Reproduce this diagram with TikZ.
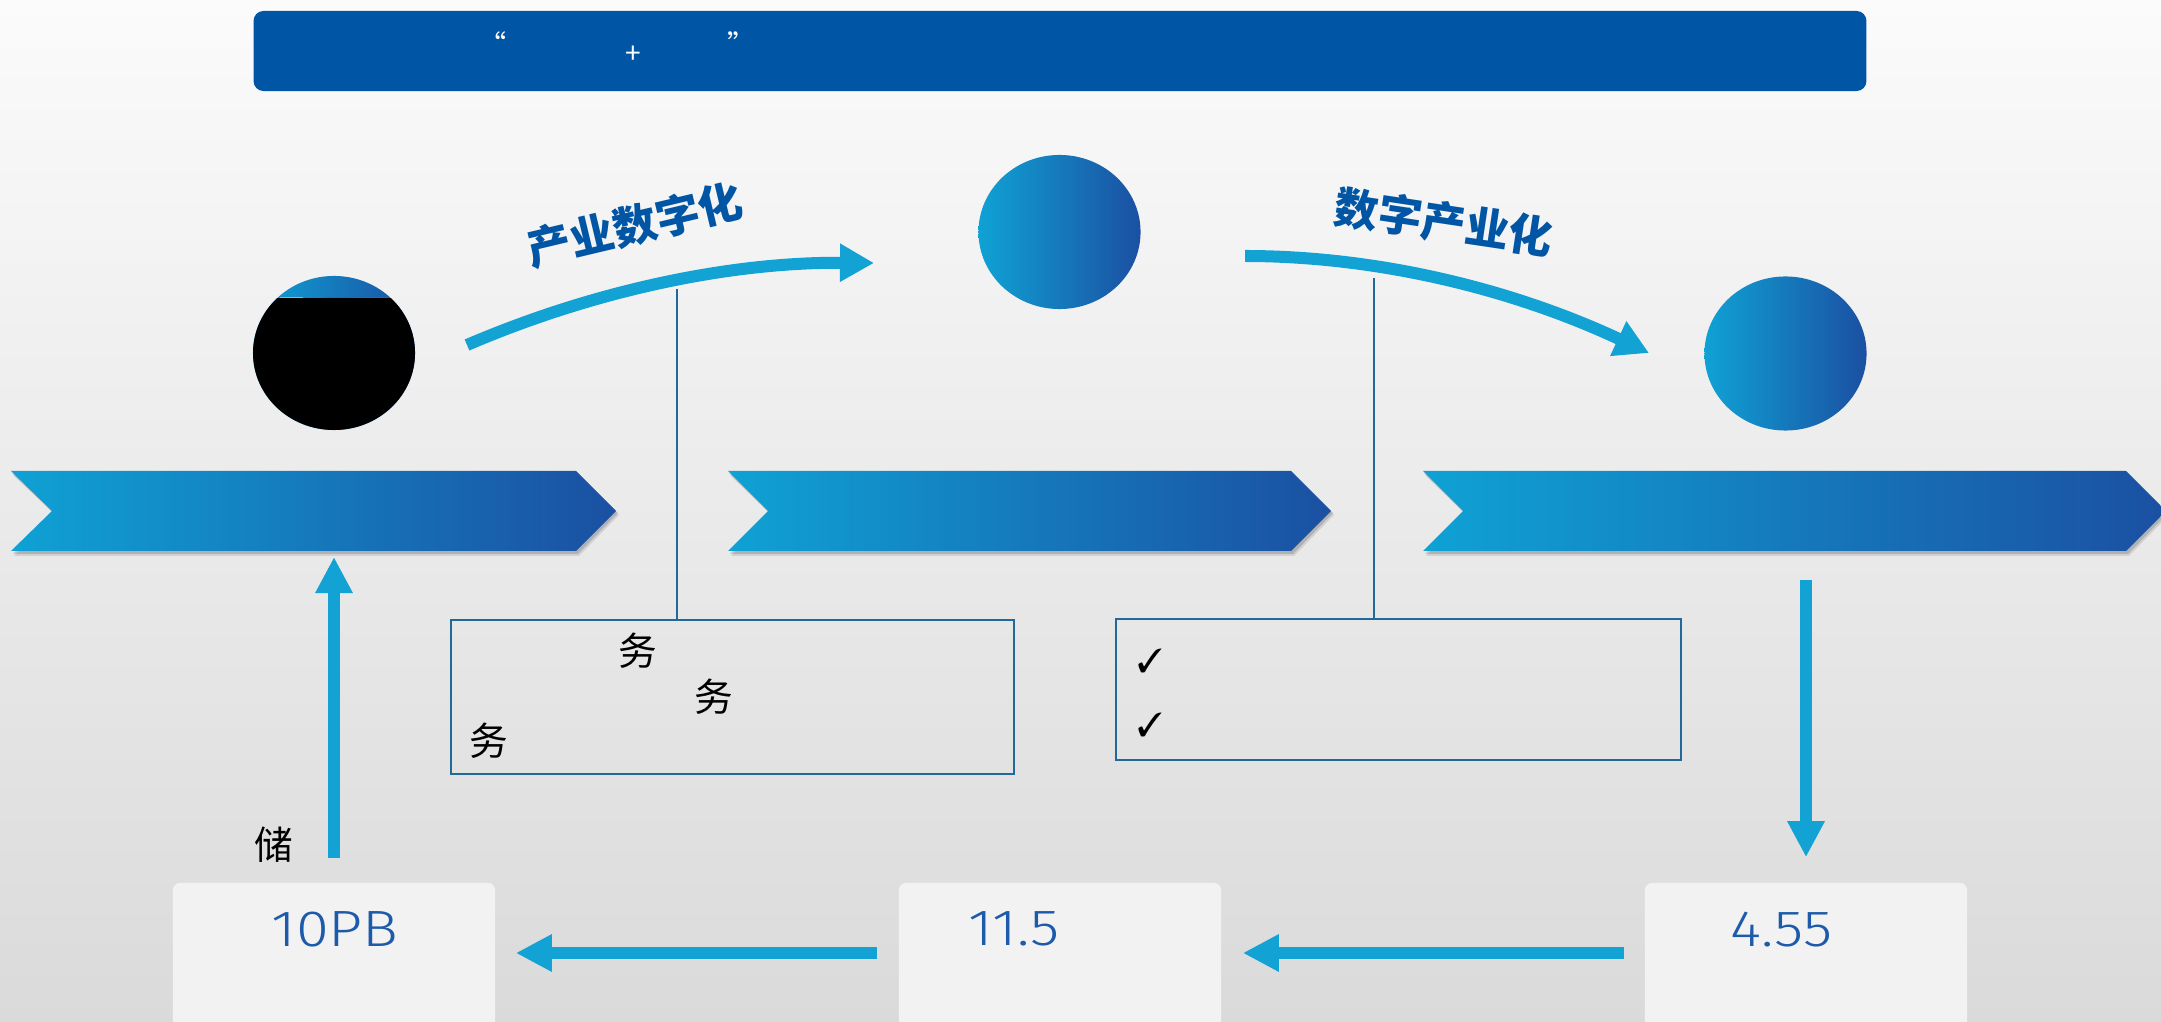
\documentclass[tikz,border=0pt]{standalone}
\usepackage{fontspec}
\usepackage{pifont}
\newfontfamily\cjk{Noto Sans CJK SC}
\newfontfamily\numfont{Fira Sans}[UprightFont={* Light},FakeStretch=1.17]
\usetikzlibrary{arrows.meta,shapes.geometric}
\definecolor{bgTop}{HTML}{FBFBFB}
\definecolor{bgBot}{HTML}{DADADA}
\definecolor{gA}{HTML}{0FA2D4}
\definecolor{gB}{HTML}{1B50A2}
\definecolor{arrowBlue}{HTML}{12A3D4}
\definecolor{titleBlue}{HTML}{0055A5}
\definecolor{lineBlue}{HTML}{22699A}
\definecolor{numBlue}{HTML}{1D5BAA}
\definecolor{boxFill}{HTML}{F2F2F2}
\begin{document}
\begin{tikzpicture}[x=0.01cm,y=-0.01cm,
  circ/.style={ellipse,minimum width=1.62cm,minimum height=1.54cm,inner sep=0pt,left color=gA,right color=gB},
  bigarrow/.style={line width=0.12cm,draw=arrowBlue,-{Triangle[length=0.34cm,width=0.36cm]}},
  strarrow/.style={line width=0.115cm,draw=arrowBlue,-{Triangle[length=0.36cm,width=0.35cm]}},
  connector/.style={draw=lineBlue,line width=0.02cm},
  infobox/.style={draw=lineBlue,line width=0.02cm,inner sep=0pt},
  valbox/.style={fill=boxFill,rounded corners=0.07cm,minimum width=3.22cm,minimum height=1.57cm,inner sep=0pt},
  cjktitle/.style={font=\cjk\bfseries\fontsize{12.5}{14}\selectfont,text=titleBlue,inner sep=0pt},
  bodytext/.style={font=\cjk\fontsize{11}{13}\selectfont,text=black,inner sep=0pt},
  numtext/.style={font=\numfont\fontsize{14.5}{16}\selectfont,text=numBlue,inner sep=0pt},
  checktext/.style={font=\fontsize{9.5}{11}\selectfont,text=black,inner sep=0pt},
  bartext/.style={font=\cjk\fontsize{8}{9}\selectfont,text=white,inner sep=0pt}]
\useasboundingbox (0,0) rectangle (2161,1022);
\clip (0,0) rectangle (2161,1022);
\shade[top color=bgTop,bottom color=bgBot] (0,0) rectangle (2161,1022);

% title bar
\node[fill=titleBlue,rounded corners=0.1cm,minimum width=16.12cm,minimum height=0.8cm,inner sep=0pt] (title) at (1060,51) {};
\node[bartext] (q1) at (493,44) {“};
\node[bartext] (plus) at (633,55) {+};
\node[bartext] (q2) at (742,44) {”};

% chevrons with shadows
\foreach \a/\b/\c/\d in {11/52/576/616, 728/768/1291/1331, 1423/1463/2126/2166}{
  \fill[black,opacity=0.10] (\a+2,475) -- (\c+2,475) -- (\d+3,515) -- (\c+3,556) -- (\a+3,556) -- (\b+3,515) -- cycle;
  \fill[black,opacity=0.15] (\a+1,473) -- (\c+1,473) -- (\d+2,513) -- (\c+2,554) -- (\a+2,554) -- (\b+2,513) -- cycle;
  \shade[left color=gA,right color=gB] (\a,471) -- (\c,471) -- (\d,511) -- (\c,551) -- (\a,551) -- (\b,511) -- cycle;
}

% circles
\node[circ] (c1) at (334,353) {};
\begin{scope}
  \clip (334,353) ellipse [x radius=81,y radius=77];
  \fill[black] (240,298) rectangle (430,440);
\end{scope}
\draw[draw={rgb,255:red,170;green,200;blue,40},line width=0.01cm] (280,298) -- (303,298);
\draw[draw={rgb,255:red,190;green,30;blue,150},line width=0.01cm] (323,298) -- (390,298);
\node[circ] (c2) at (1059.5,232) {};
\node[circ] (c3) at (1785.5,353.5) {};

% curved arrows
\coordinate (a1s) at (467,345);
\coordinate (a1e) at (874,263);
\draw[bigarrow] (a1s) .. controls (595,290) and (731,262) .. (a1e);
\coordinate (a2s) at (1245,256);
\coordinate (a2e) at (1649,353);
\draw[bigarrow] (a2s) .. controls (1375,256) and (1510,288) .. (a2e);

\node[cjktitle,rotate=13.4] (l1) at (635,225) {产业数字化};
\node[cjktitle,rotate=-8.5] (l2) at (1444,222) {数字产业化};

% info boxes
\node[infobox,minimum width=5.63cm,minimum height=1.54cm] (b1) at (732.5,697) {};
\node[infobox,minimum width=5.65cm,minimum height=1.41cm] (b2) at (1398.5,689.5) {};
\coordinate (k1) at (677,289);
\draw[connector] (k1) -- (k1 |- b1.north);
\coordinate (k2) at (1374,278);
\draw[connector] (k2) -- (k2 |- b2.north);

\node[bodytext] (w1) at (638,651) {务};
\node[bodytext] (w2) at (714,697) {务};
\node[bodytext] (w3) at (489,741) {务};
\node[checktext] (ck1) at (1150,661) {\ding{51}};
\node[checktext] (ck2) at (1150,725) {\ding{51}};
\node[bodytext] (s1) at (274,845) {储};

% value boxes
\node[valbox] (v1) at (334,961.5) {};
\node[valbox] (v2) at (1060,961.5) {};
\node[valbox] (v3) at (1806,961.5) {};
\node[numtext] (n1) at (335,929) {10PB};
\node[numtext] (n2) at (1014,929) {11.5};
\node[numtext] (n3) at (1781.5,930) {4.55};

% straight arrows
\coordinate (upTip) at (334,557);
\draw[strarrow] ([yshift=0.24cm]v1.north) -- (upTip);
\coordinate (dnStart) at (1806,580);
\draw[strarrow] (dnStart) -- ([yshift=0.25cm]v3.north);
\draw[strarrow] ([xshift=-0.21cm,yshift=0.085cm]v2.west) -- ([xshift=0.2cm,yshift=0.085cm]v1.east);
\draw[strarrow] ([xshift=-0.2cm,yshift=0.085cm]v3.west) -- ([xshift=0.21cm,yshift=0.085cm]v2.east);
\end{tikzpicture}
\end{document}
